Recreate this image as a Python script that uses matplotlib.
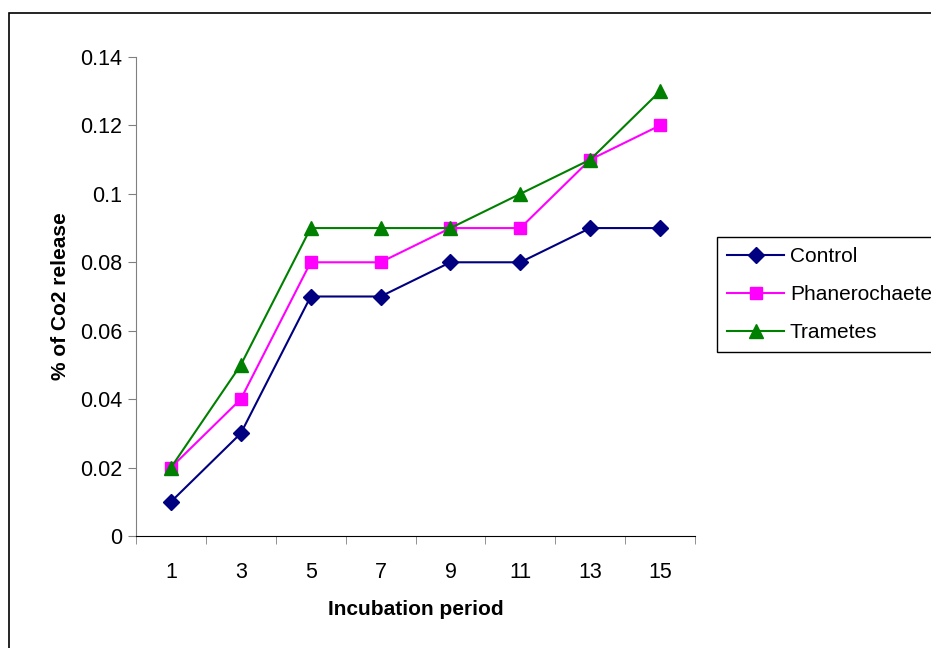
import matplotlib
matplotlib.use("Agg")
import matplotlib.pyplot as plt
from matplotlib.patches import Rectangle

plt.rcParams['font.family'] = ['Liberation Sans', 'DejaVu Sans']

days = ['1', '3', '5', '7', '9', '11', '13', '15']
control = [0.01, 0.03, 0.07, 0.07, 0.08, 0.08, 0.09, 0.09]
phanerochaete = [0.02, 0.04, 0.08, 0.08, 0.09, 0.09, 0.11, 0.12]
trametes = [0.02, 0.05, 0.09, 0.09, 0.09, 0.10, 0.11, 0.13]

fig = plt.figure(figsize=(9.31, 6.48), dpi=100)
ax = fig.add_axes([136/931, 1 - 536/648, (695 - 136)/931, (536 - 57)/648])

x = range(len(days))
ax.plot(x, control, '-D', color='#000080', ms=8, lw=1.5, label='Control')
ax.plot(x, phanerochaete, '-s', color='#FF00FF', ms=9, lw=1.5, label='Phanerochaete')
ax.plot(x, trametes, '-^', color='#008000', ms=10, lw=1.5, label='Trametes')

ax.set_xlim(-0.5, len(days) - 0.5)
ax.set_ylim(0, 0.14)
ax.set_yticks([0, 0.02, 0.04, 0.06, 0.08, 0.1, 0.12, 0.14])
ax.set_yticklabels(['0', '0.02', '0.04', '0.06', '0.08', '0.1', '0.12', '0.14'])
ax.set_xticks(list(x))
ax.set_xticklabels(days)
ax.set_xticks([i - 0.5 for i in range(len(days) + 1)], minor=True)
ax.tick_params(axis='x', which='major', length=0, pad=19, labelsize=15.5)
ax.tick_params(axis='x', which='minor', length=6, color='#808080', direction='out')
ax.tick_params(axis='y', length=6, color='#808080', labelsize=15.5, pad=4)

ax.spines['top'].set_visible(False)
ax.spines['right'].set_visible(False)
ax.spines['left'].set_color('#808080')
ax.spines['bottom'].set_color('black')

ax.set_xlabel('Incubation period', fontsize=15, fontweight='bold', labelpad=12)
ax.set_ylabel('% of Co2 release', fontsize=15, fontweight='bold', labelpad=7)

leg = fig.legend(loc='upper left', bbox_to_anchor=(717/931, 1 - 237/648),
                 bbox_transform=fig.transFigure, borderaxespad=0, fontsize=15,
                 fancybox=False, edgecolor='black', framealpha=1,
                 handlelength=2.7, labelspacing=0.9, handletextpad=0.3,
                 borderpad=0.5)
leg.get_frame().set_linewidth(1)

# chart frame
fig.patches.append(Rectangle((9/931, -0.1), 2, 1 - 13/648 + 0.1,
                             transform=fig.transFigure, fill=False,
                             edgecolor='black', lw=1.2))

fig.savefig('out.png', dpi=100)
